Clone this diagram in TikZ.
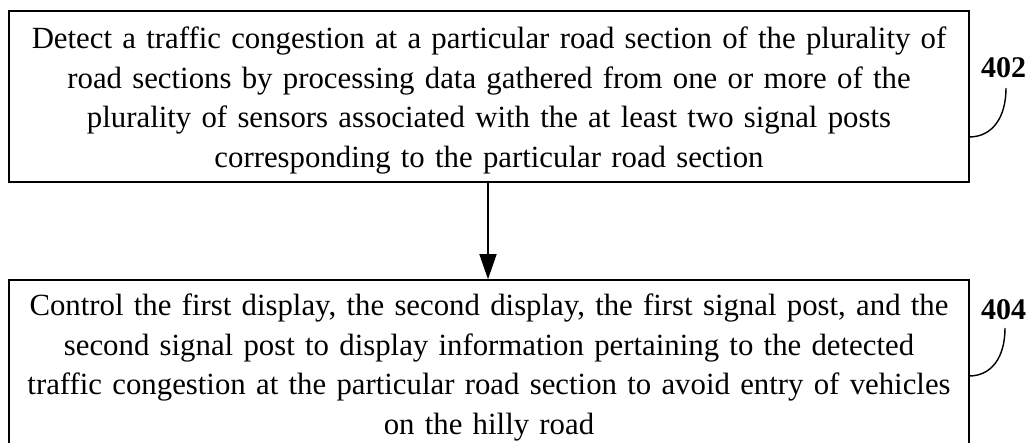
\documentclass[tikz,border=0pt]{standalone}
\usepackage{fontspec}
\setmainfont{Liberation Serif}
\usetikzlibrary{arrows.meta}
\begin{document}
\begin{tikzpicture}[x=1pt,y=-1pt,
  stepbox/.style={draw=black, line width=1.6pt, rectangle, inner sep=0pt,
    minimum width=960pt},
  steptext/.style={inner sep=0pt, text width=950pt, align=center,
    font=\fontsize{30.8}{39.5}\selectfont},
  steplabel/.style={font=\fontsize{30}{35}\selectfont\bfseries, inner sep=0pt},
  leader/.style={line width=1.4pt},
  flow/.style={line width=1.6pt, -{Triangle[length=25pt, width=17pt]}}]
\useasboundingbox (0,0) rectangle (1031,443);
% step 402
\node[stepbox, minimum height=171pt] (box1) at (489,96.5) {};
\node[steptext] (txt1) at (489,100)
  {\strut Detect a traffic congestion at a particular road section of the plurality of\\
   \strut road sections by processing data gathered from one or more of the\\
   \strut plurality of sensors associated with the at least two signal posts\\
   \strut corresponding to the particular road section};
% step 404
\node[stepbox, minimum height=178pt] (box2) at (489,369) {};
\node[steptext] (txt2) at (489,367)
  {\strut Control the first display, the second display, the first signal post, and the\\
   \strut second signal post to display information pertaining to the detected\\
   \strut traffic congestion at the particular road section to avoid entry of vehicles\\
   \strut on the hilly road};
\draw[flow] (box1.south -| 488,0) -- (box2.north -| 488,0);
% reference numerals
\node[steplabel] (lab1) at (1003.5,68) {402};
\node[steplabel] (lab2) at (1003.5,310) {404};
\coordinate (end1) at (969,137);
\coordinate (end2) at (969,376);
\draw[leader] (1006,88) .. controls (1006,118) and (992,137) .. (end1);
\draw[leader] (1005,328) .. controls (1005,358) and (991,376) .. (end2);
\end{tikzpicture}
\end{document}
